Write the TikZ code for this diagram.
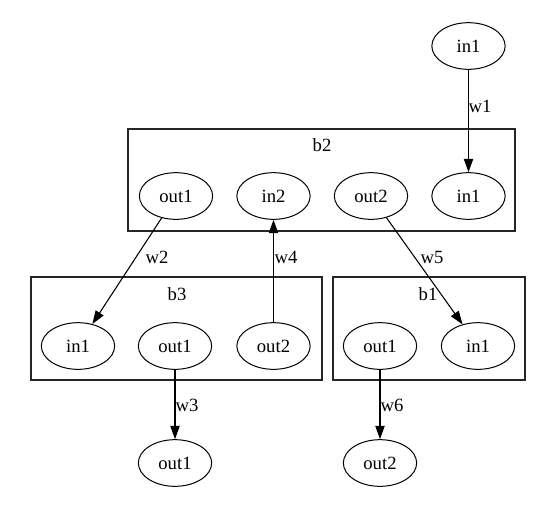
\documentclass[tikz,border=0pt]{standalone}
\usepackage{fontspec}
\setmainfont{Liberation Serif}
\usetikzlibrary{arrows.meta,shapes.geometric}
\tikzset{
  port/.style={ellipse,draw,line width=0.75pt,minimum width=55pt,minimum height=35pt,inner sep=0pt,font=\fontsize{14}{16}\selectfont},
  cluster/.style={draw=black!85,line width=0.9pt},
  clabel/.style={font=\fontsize{14}{16}\selectfont,inner sep=0pt},
  elabel/.style={font=\fontsize{14}{16}\selectfont,inner sep=0pt},
  wire/.style={line width=0.8pt,-{Triangle[length=10pt,width=7pt]}}
}
\begin{document}
\begin{tikzpicture}[x=0.75pt,y=-0.75pt]
\useasboundingbox (0,0) rectangle (557,515);
% clusters
\draw[cluster] (128,129) rectangle (515,231);
\node[clabel] (lb2) at (322,145) {b2};
\draw[cluster] (31,277) rectangle (322,380);
\node[clabel] (lb3) at (177,294) {b3};
\draw[cluster] (333,277) rectangle (525,380);
\node[clabel] (lb1) at (428,294) {b1};
% nodes
\node[port] (tin1) at (468.5,46) {in1};
\node[port] (b2out1) at (176,196) {out1};
\node[port] (b2in2) at (273.5,196) {in2};
\node[port] (b2out2) at (371,196) {out2};
\node[port] (b2in1) at (468.5,196) {in1};
\node[port] (b3in1) at (78,346) {in1};
\node[port] (b3out1) at (175,346) {out1};
\node[port] (b3out2) at (273.5,346) {out2};
\node[port] (b1out1) at (380,346) {out1};
\node[port] (b1in1) at (478,346) {in1};
\node[port] (bout1) at (175,463) {out1};
\node[port] (bout2) at (380,463) {out2};
% edges
\draw[wire] (tin1) -- (b2in1);
\draw[wire] (b2out1) -- (b3in1);
\draw[wire] (b3out2) -- (b2in2);
\draw[wire] (b2out2) -- (b1in1);
\draw[wire] (b3out1) -- (bout1);
\draw[wire] (b1out1) -- (bout2);
% edge labels
\node[elabel] (w1) at (480,106) {w1};
\node[elabel] (w2) at (157,257) {w2};
\node[elabel] (w4) at (286,257) {w4};
\node[elabel] (w5) at (432,257) {w5};
\node[elabel] (w3) at (187,405) {w3};
\node[elabel] (w6) at (392,405) {w6};
\end{tikzpicture}
\end{document}
